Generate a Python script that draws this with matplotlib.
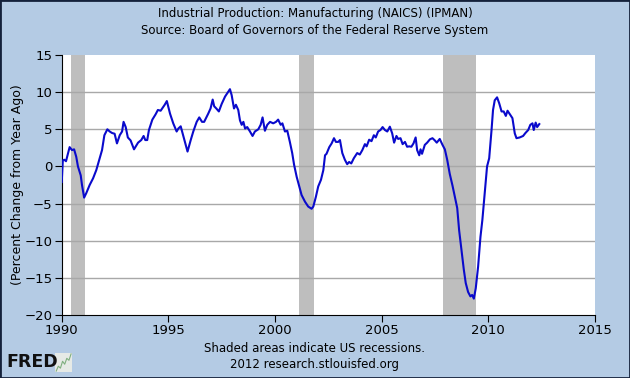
import matplotlib
matplotlib.use("Agg")
import matplotlib.pyplot as plt
from matplotlib.patches import Rectangle

# IPMAN, percent change from year ago (decimal years)
dates = [1990.00, 1990.05, 1990.12, 1990.20, 1990.37, 1990.48, 1990.58, 1990.68, 1990.76, 1990.89,
         1990.95, 1991.05, 1991.15, 1991.31, 1991.47, 1991.62, 1991.78, 1991.89, 1992.00, 1992.14,
         1992.25, 1992.36, 1992.48, 1992.59, 1992.72, 1992.83, 1992.90, 1993.00, 1993.10, 1993.23,
         1993.39, 1993.58, 1993.73, 1993.84, 1993.92, 1994.01, 1994.09, 1994.25, 1994.40, 1994.51,
         1994.64, 1994.83, 1994.93, 1995.08, 1995.23, 1995.39, 1995.47, 1995.58, 1995.73, 1995.90,
         1996.05, 1996.17, 1996.33, 1996.45, 1996.58, 1996.68, 1996.87, 1996.98, 1997.08, 1997.15,
         1997.25, 1997.37, 1997.50, 1997.66, 1997.81, 1997.89, 1997.97, 1998.08, 1998.17, 1998.28,
         1998.36, 1998.44, 1998.52, 1998.60, 1998.70, 1998.83, 1998.95, 1999.06, 1999.22, 1999.33,
         1999.42, 1999.53, 1999.64, 1999.77, 1999.92, 2000.05, 2000.15, 2000.27, 2000.35, 2000.47,
         2000.58, 2000.70, 2000.81, 2000.90, 2001.02, 2001.14, 2001.25, 2001.41, 2001.56, 2001.72,
         2001.80, 2001.92, 2002.03, 2002.16, 2002.27, 2002.35, 2002.42, 2002.55, 2002.66, 2002.77,
         2002.86, 2002.97, 2003.05, 2003.16, 2003.28, 2003.39, 2003.48, 2003.58, 2003.70, 2003.86,
         2003.98, 2004.10, 2004.22, 2004.30, 2004.42, 2004.53, 2004.64, 2004.73, 2004.84, 2004.95,
         2005.05, 2005.16, 2005.27, 2005.39, 2005.50, 2005.59, 2005.70, 2005.78, 2005.89, 2005.99,
         2006.10, 2006.20, 2006.30, 2006.40, 2006.50, 2006.60, 2006.67, 2006.77, 2006.83, 2006.90,
         2007.03, 2007.14, 2007.27, 2007.39, 2007.50, 2007.59, 2007.73, 2007.86, 2007.97, 2008.08,
         2008.20, 2008.33, 2008.44, 2008.55, 2008.64, 2008.75, 2008.86, 2008.95, 2009.06, 2009.17,
         2009.25, 2009.33, 2009.42, 2009.53, 2009.64, 2009.73, 2009.84, 2009.95, 2010.05, 2010.16,
         2010.23, 2010.31, 2010.42, 2010.52, 2010.63, 2010.73, 2010.83, 2010.91, 2011.00, 2011.14,
         2011.25, 2011.33, 2011.48, 2011.64, 2011.75, 2011.88, 2011.98, 2012.08, 2012.14, 2012.23,
         2012.30, 2012.40]
pct_change = [-2.1, 0.8, 0.9, 0.7, 2.6, 2.2, 2.3, 1.3, 0.0, -1.2,
              -2.5, -4.2, -3.6, -2.5, -1.6, -0.5, 1.1, 2.2, 4.2, 5.0,
              4.7, 4.5, 4.4, 3.1, 4.2, 4.7, 6.0, 5.3, 3.9, 3.5,
              2.3, 3.2, 3.55, 4.1, 3.55, 3.55, 4.9, 6.3, 7.0, 7.6,
              7.5, 8.3, 8.8, 7.1, 5.8, 4.7, 5.1, 5.4, 3.8, 2.0,
              3.55, 4.7, 6.0, 6.6, 6.0, 6.0, 7.1, 7.8, 9.0, 8.1,
              7.8, 7.4, 8.4, 9.4, 10.05, 10.4, 9.6, 7.8, 8.3, 7.6,
              6.2, 5.6, 6.0, 5.1, 5.3, 4.7, 4.1, 4.7, 5.0, 5.6,
              6.6, 4.8, 5.6, 6.0, 5.8, 6.0, 6.3, 5.6, 5.8, 4.7,
              4.8, 3.3, 1.8, 0.2, -1.4, -2.7, -3.85, -4.75, -5.4, -5.7,
              -5.4, -4.1, -2.7, -1.8, -0.5, 1.5, 1.7, 2.6, 3.1, 3.8,
              3.3, 3.3, 3.55, 1.8, 0.9, 0.3, 0.6, 0.4, 1.1, 1.8,
              1.6, 2.2, 3.0, 2.7, 3.6, 3.4, 4.2, 3.9, 4.7, 4.9,
              5.3, 4.9, 4.7, 5.35, 4.45, 3.2, 4.1, 3.7, 3.8, 3.0,
              3.3, 2.65, 2.7, 2.65, 3.1, 3.9, 2.2, 1.5, 2.3, 1.7,
              2.9, 3.2, 3.65, 3.8, 3.5, 3.2, 3.7, 2.9, 2.3, 0.9,
              -1.0, -2.6, -4.1, -5.6, -8.6, -11.2, -13.9, -15.7, -16.9, -17.5,
              -17.3, -17.8, -16.4, -13.5, -9.5, -7.2, -3.6, 0.0, 1.1, 4.9,
              7.6, 8.9, 9.3, 8.5, 7.4, 7.4, 6.8, 7.5, 7.1, 6.5,
              4.45, 3.8, 3.9, 4.1, 4.5, 4.9, 5.6, 5.8, 4.9, 5.9,
              5.3, 5.7]

recession_start = [1990.42, 2001.15, 2007.90]
recession_end = [1991.08, 2001.83, 2009.45]

x_ticks = [1990, 1995, 2000, 2005, 2010, 2015]
y_ticks = [-20, -15, -10, -5, 0, 5, 10, 15]

# little sparkline in the FRED logo
logo_line = [1, 2, 1.6, 3, 2.4, 3.6, 3.2, 4.5]

bg = "#B4CBE4"

fig = plt.figure(figsize=(6.3, 3.78), dpi=100, facecolor=bg)
ax = fig.add_axes([0.098, 0.1667, 0.846, 0.6878])
ax.set_facecolor("white")

for s, e in zip(recession_start, recession_end):
    ax.axvspan(s, e, color="#BEBEBE", lw=0, zorder=1)

for yv in y_ticks[1:-1]:
    ax.axhline(yv, color="#A8A8A8", lw=1, zorder=2)

ax.plot(dates, pct_change, color="#0A0ACC", lw=1.5, zorder=3)

ax.set_xlim(1990, 2015)
ax.set_ylim(-20, 15)
ax.set_xticks(x_ticks)
ax.set_yticks(y_ticks)
ax.tick_params(direction="out", length=5, labelsize=9.5, colors="black", pad=1.5)
for side in ["top", "right"]:
    ax.spines[side].set_visible(False)
ax.spines["left"].set_color("black")
ax.spines["bottom"].set_color("black")
ax.set_ylabel("(Percent Change from Year Ago)", fontsize=9)
ax.yaxis.set_label_coords(-0.07, 0.5)

fig.text(0.5, 0.963, "Industrial Production: Manufacturing (NAICS) (IPMAN)",
         ha="center", va="center", fontsize=8.5)
fig.text(0.5, 0.92, "Source: Board of Governors of the Federal Reserve System",
         ha="center", va="center", fontsize=8.5)
fig.text(0.5, 0.079, "Shaded areas indicate US recessions.",
         ha="center", va="center", fontsize=8.5)
fig.text(0.5, 0.037, "2012 research.stlouisfed.org",
         ha="center", va="center", fontsize=8.5)

# FRED logo
fig.text(0.01, 0.042, "FRED", ha="left", va="center", fontsize=12.5,
         fontweight="heavy", color="#111111")
logo = fig.add_axes([0.088, 0.016, 0.026, 0.05])
logo.set_facecolor("#E6EAE6")
logo.plot(range(len(logo_line)), logo_line, color="#7FAF7F", lw=0.8)
logo.set_xticks([])
logo.set_yticks([])
for sp in logo.spines.values():
    sp.set_visible(False)

fig.patches.append(Rectangle((0, 0), 1, 1, transform=fig.transFigure, fill=False,
                             edgecolor="#14213A", lw=2))

fig.savefig("out.png", dpi=100, facecolor=bg)
